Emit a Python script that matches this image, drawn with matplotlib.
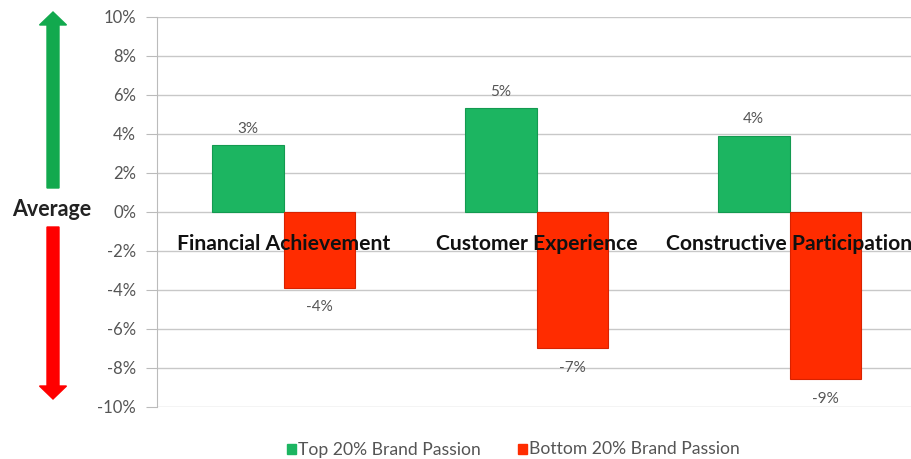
import matplotlib.pyplot as plt
from matplotlib.patches import FancyArrow, Rectangle
import numpy as np

categories = ["Financial Achievement", "Customer Experience", "Constructive Participation"]
top_values = [3.4, 5.3, 3.9]
bottom_values = [-3.9, -7.0, -8.6]
series_names = ["Top 20% Brand Passion", "Bottom 20% Brand Passion"]
yticks = list(range(-10, 11, 2))

green = "#1cb561"
red = "#ff2c00"
grid_col = "#c8c8c8"
text_gray = "#555555"

plt.rcParams['font.family'] = ['Lato', 'DejaVu Sans']

fig = plt.figure(figsize=(9.11, 4.59), dpi=100)
W, H = 911, 459
ax = fig.add_axes([157 / W, (H - 406.7) / H, 759 / W, 390 / H])

x = np.arange(len(categories))
bw = 0.283
ax.bar(x - bw / 2, top_values, width=bw, color=green, edgecolor="#139a50", linewidth=0.8,
       label=series_names[0], zorder=3)
ax.bar(x + bw / 2, bottom_values, width=bw, color=red, edgecolor="#d82200", linewidth=0.8,
       label=series_names[1], zorder=3)

for xi, v in zip(x - bw / 2, top_values):
    ax.annotate(f"{v:.0f}%", (xi, v), xytext=(0, 7), textcoords="offset points",
                ha="center", va="bottom", fontsize=11, color=text_gray)
for xi, v in zip(x + bw / 2, bottom_values):
    ax.annotate(f"{round(v):.0f}%", (xi, v), xytext=(0, -9), textcoords="offset points",
                ha="center", va="top", fontsize=11, color=text_gray)

for xi, name in zip(x, categories):
    ax.text(xi, -1.65, name, ha="center", va="center", fontsize=15.2, fontweight="bold",
            color="#111111", zorder=5)

ax.set_xlim(-0.5, 2.5)
ax.set_ylim(-10, 10)
ax.set_yticks(yticks)
ax.set_yticklabels([f"{t}%" for t in yticks], fontsize=12, color=text_gray)
ax.set_xticks([])
ax.grid(axis="y", color=grid_col, linewidth=1, zorder=0)
for s in ["top", "right", "bottom"]:
    ax.spines[s].set_visible(False)
ax.spines["left"].set_color("#bbbbbb")
ax.tick_params(axis="y", length=8, color="#bbbbbb", pad=7)

# Side indicator: arrows and "Average"
fax = fig.add_axes([0, 0, 1, 1], facecolor="none")
fax.set_xlim(0, W)
fax.set_ylim(H, 0)
fax.axis("off")
fax.add_patch(FancyArrow(53, 188, 0, -176, width=12, head_width=27, head_length=13,
                         length_includes_head=True, color="#12a94e"))
fax.add_patch(FancyArrow(53, 227, 0, 172, width=12, head_width=27, head_length=13,
                         length_includes_head=True, color="#ff0000"))
fax.text(52, 210, "Average", ha="center", va="center", fontsize=15.5, fontweight="bold",
         color="#222222")

# Legend
fax.add_patch(Rectangle((287, 444), 9, 10, color=green))
fax.text(298, 449.5, series_names[0], ha="left", va="center", fontsize=12.6, color=text_gray)
fax.add_patch(Rectangle((518, 444), 9, 10, color=red))
fax.text(529, 449.5, series_names[1], ha="left", va="center", fontsize=12.6, color=text_gray)

fig.savefig("out.png", dpi=100)
